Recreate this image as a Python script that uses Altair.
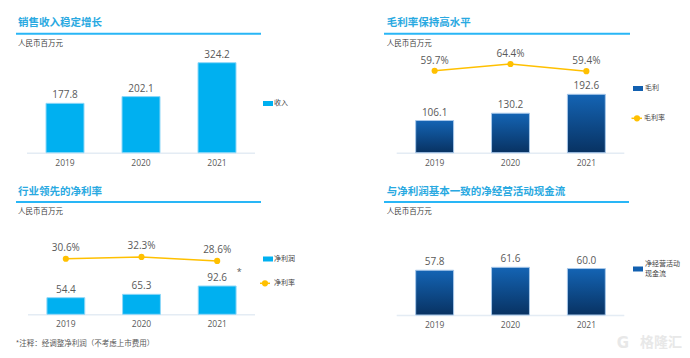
import altair as alt
import pandas as pd

years = ["2019", "2020", "2021"]
revenue = [177.8, 202.1, 324.2]
gross_profit = [106.1, 130.2, 192.6]
gross_margin = [59.7, 64.4, 59.4]
net_profit = [54.4, 65.3, 92.6]
net_margin = [30.6, 32.3, 28.6]
op_cash = [57.8, 61.6, 60.0]

titles = ["销售收入稳定增长", "毛利率保持高水平", "行业领先的净利率", "与净利润基本一致的净经营活动现金流"]
unit = "人民币百万元"
footnote = "*注释：经调整净利润（不考虑上市费用）"

CJK = "Noto Sans CJK SC"
NUM = "Open Sans"
TITLE_C = "#29a9e1"
LINE_C = "#29b6f6"
TXT = "#595959"
LIGHT = "#00b0f0"
GOLD = "#ffc000"
DARK = alt.Gradient(
    gradient="linear",
    stops=[alt.GradientStop(offset=0, color="#1464b4"),
           alt.GradientStop(offset=1, color="#083262")],
    x1=0, x2=0, y1=0, y2=1,
)

W, H = 337, 171


def one(t=""):
    return alt.Chart(pd.DataFrame({"t": [t]}))


def deco_text(text, x, y, size, color, weight="normal", font=CJK, align="left"):
    return one(text).mark_text(align=align, baseline="middle", fontSize=size, color=color,
                               fontWeight=weight, font=font).encode(
        x=alt.value(x), y=alt.value(y), text="t:N")


def deco_rule(x1, x2, y, color, width):
    return one().mark_rule(color=color, strokeWidth=width).encode(
        x=alt.value(x1), x2=alt.value(x2), y=alt.value(y))


def deco_swatch(x1, x2, y1, y2, color):
    return one().mark_rect(color=color).encode(
        x=alt.value(x1), x2=alt.value(x2), y=alt.value(y1), y2=alt.value(y2))


def panel(title, tx, ty, ulx, ulx2, bars, vmax, base, top, xr, bar_fill, bar_stroke,
          legend, pct=None, pct_range=None, pct_dy=-10, extra=None):
    df = pd.DataFrame({"year": years, "bar": bars})
    if pct is not None:
        df["pct"] = pct
        df["pct_lbl"] = [f"{v:.1f}%" for v in pct]
    df["bar_lbl"] = [f"{v:.1f}" for v in bars]
    x = alt.X("year:N", axis=None, sort=years,
              scale=alt.Scale(range=xr, paddingInner=0.5, paddingOuter=0.25))
    ysc = alt.Scale(domain=[0, vmax], range=[base, top])
    yb = alt.Y("bar:Q", axis=None, scale=ysc)
    base_c = alt.Chart(df)
    layers = [
        deco_text(title, tx, ty, 10.5, TITLE_C, weight="bold"),
        deco_rule(ulx, ulx2, ty + 10.4, LINE_C, 2),
        deco_text(unit, tx, ty + 20.4, 7.5, "#404040"),
        deco_rule(xr[0], xr[1], base + 0.5, "#e4ecf4", 1.5),
        base_c.mark_bar(fill=bar_fill, stroke=bar_stroke, strokeWidth=1).encode(x=x, y=yb, y2=alt.datum(0)),
        base_c.mark_text(dy=-8, fontSize=10, color=TXT, font=NUM).encode(x=x, y=yb, text="bar_lbl:N"),
        base_c.mark_text(fontSize=8.5, color=TXT, font=NUM).encode(
            x=x, y=alt.value(base + 10), text="year:N"),
    ]
    if pct is not None:
        yp = alt.Y("pct:Q", axis=None, scale=alt.Scale(domain=[0, 100], range=pct_range))
        layers += [
            base_c.mark_line(color=GOLD, strokeWidth=1.5).encode(x=x, y=yp),
            base_c.mark_point(filled=True, color=GOLD, size=38, opacity=1).encode(x=x, y=yp),
            base_c.mark_text(dy=pct_dy, fontSize=10, color=TXT, font=NUM).encode(x=x, y=yp, text="pct_lbl:N"),
        ]
    if extra:
        layers += extra
    layers += legend
    return alt.layer(*layers).resolve_scale(y="independent").properties(width=W, height=H)


# Panel 1: revenue
leg1 = [deco_swatch(255, 265, 93, 98, LIGHT), deco_text("收入", 266, 95.3, 7, "#404040")]
p1 = panel(titles[0], 10, 15.3, 8, 253, revenue, 324.2, 144.7, 54.7, [19, 247],
           LIGHT, "#8fd8f8", leg1)

# Panel 2: gross profit
leg2 = [deco_swatch(288, 298, 78, 83, "#1260b0"), deco_text("毛利", 300, 80.3, 7, "#404040"),
        deco_rule(286.5, 297, 110.3, GOLD, 1.5),
        one().mark_point(filled=True, color=GOLD, size=38, opacity=1).encode(x=alt.value(292), y=alt.value(110.3)),
        deco_text("毛利率", 299, 110.3, 7, "#404040")]
p2 = panel(titles[1], 41.7, 15.3, 39, 285, gross_profit, 192.6, 144.7, 86.3, [51.7, 279.3],
           DARK, "#a8c8ea", leg2, pct=gross_margin, pct_range=[147.8, 5.3], pct_dy=-10)

# Panel 3: net profit
star_df = pd.DataFrame({"year": ["2021"], "bar": [92.6], "t": ["*"]})
star = alt.Chart(star_df).mark_text(fontSize=9, color=TXT, font=NUM, dx=22, dy=-14).encode(
    x=alt.X("year:N", axis=None, sort=years,
            scale=alt.Scale(range=[20, 247], paddingInner=0.5, paddingOuter=0.25)),
    y=alt.Y("bar:Q", axis=None, scale=alt.Scale(domain=[0, 92.6], range=[135.3, 107])),
    text="t:N")
leg3 = [deco_swatch(255, 265, 77.5, 82.5, LIGHT), deco_text("净利润", 266, 80, 7, "#404040"),
        deco_rule(252, 262, 104.3, GOLD, 1.5),
        one().mark_point(filled=True, color=GOLD, size=38, opacity=1).encode(x=alt.value(257), y=alt.value(104.3)),
        deco_text("净利率", 266, 104.3, 7, "#404040")]
p3 = panel(titles[2], 10, 12.7, 8, 253, net_profit, 92.6, 135.3, 107, [20, 247],
           LIGHT, "#8fd8f8", leg3, pct=net_margin, pct_range=[112.8, 4.75], pct_dy=-11,
           extra=[star, deco_text(footnote, 7.7, 165, 7.5, "#595959")])

# Panel 4: operating cash flow
leg4 = [deco_swatch(288, 298, 87.5, 92.5, "#1260b0"),
        deco_text("净经营活动", 300, 84.5, 7, "#404040"),
        deco_text("现金流", 300, 94.5, 7, "#404040"),
        deco_text("格隆汇", 316, 164, 14, "#e8e8e8", weight="bold", align="center"),
        deco_text("G", 278, 164, 15, "#e8e8e8", weight="bold", font="DejaVu Sans", align="center")]
p4 = panel(titles[3], 41.7, 12.7, 39, 284, op_cash, 61.6, 136, 88.3, [51.7, 279.3],
           DARK, "#a8c8ea", leg4)

chart = alt.vconcat(
    alt.hconcat(p1, p2, spacing=0),
    alt.hconcat(p3, p4, spacing=0),
    spacing=0,
).properties(padding=0, background="white").configure_view(stroke=None)

chart.save("out.html", embed_options={"renderer": "svg", "actions": False})
